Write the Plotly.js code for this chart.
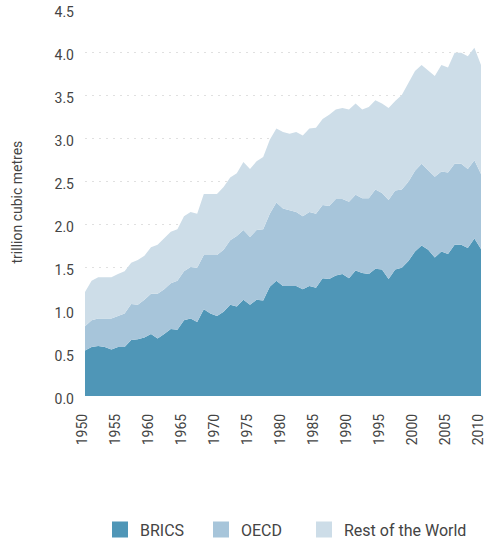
<!DOCTYPE html>
<html>
<head>
<meta charset="utf-8">
<script src="https://cdn.plot.ly/plotly-3.0.1.min.js"></script>
<style>html,body{margin:0;padding:0;background:#fff;}#chart{width:487px;height:542px;}</style>
</head>
<body>
<div id="chart"></div>
<script>
const years = [];
for (let y = 1950; y <= 2010; y++) years.push(y);

const seriesNames = ["BRICS", "OECD", "Rest of the World"];
const seriesColors = ["#4f96b7", "#a7c5da", "#cddde8"];

const brics = [0.53,0.57,0.58,0.57,0.54,0.57,0.57,0.65,0.66,0.68,
               0.72,0.67,0.72,0.78,0.77,0.88,0.90,0.86,1.01,0.96,
               0.93,0.98,1.06,1.04,1.12,1.06,1.12,1.11,1.27,1.34,
               1.28,1.28,1.28,1.24,1.28,1.26,1.37,1.36,1.40,1.42,
               1.37,1.46,1.43,1.42,1.48,1.47,1.36,1.47,1.49,1.57,
               1.68,1.75,1.70,1.61,1.68,1.65,1.76,1.76,1.72,1.83,
               1.71];
const oecd = [0.28,0.31,0.32,0.33,0.36,0.36,0.39,0.42,0.40,0.44,
              0.47,0.52,0.52,0.53,0.57,0.57,0.60,0.63,0.63,0.68,
              0.71,0.72,0.75,0.82,0.81,0.79,0.81,0.83,0.85,0.91,
              0.90,0.88,0.86,0.85,0.86,0.86,0.85,0.85,0.89,0.87,
              0.89,0.88,0.87,0.88,0.92,0.89,0.92,0.92,0.91,0.92,
              0.94,0.95,0.93,0.94,0.93,0.95,0.94,0.94,0.92,0.91,
              0.87];
const rest = [0.40,0.46,0.48,0.48,0.48,0.49,0.49,0.48,0.52,0.51,
              0.54,0.57,0.59,0.60,0.60,0.64,0.64,0.63,0.71,0.71,
              0.71,0.73,0.73,0.73,0.79,0.79,0.80,0.84,0.86,0.86,
              0.89,0.89,0.93,0.94,0.97,1.00,1.00,1.06,1.04,1.06,
              1.07,1.06,1.03,1.06,1.04,1.04,1.07,1.04,1.10,1.15,
              1.16,1.15,1.15,1.17,1.24,1.22,1.29,1.29,1.31,1.31,
              1.27];
const seriesValues = [brics, oecd, rest];

const xTicks = [1950,1955,1960,1965,1970,1975,1980,1985,1990,1995,2000,2005,2010];
const yTicks = [0,0.5,1,1.5,2,2.5,3,3.5,4,4.5];
const yTickText = yTicks.map(v => v.toFixed(1));
const yTitle = "trillion cubic metres";

const FONT = "Roboto, 'Noto Sans', sans-serif";
const legendIds = ["legend", "legend2", "legend3"];
const legendX = [100, 201, 304];

const traces = [];
seriesValues.forEach((vals, i) => {
  traces.push({
    x: years, y: vals, type: "scatter", mode: "lines",
    stackgroup: "one", name: seriesNames[i],
    line: {width: 0, color: seriesColors[i]},
    fillcolor: seriesColors[i], showlegend: false,
    hoverinfo: "x+y+name"
  });
});
seriesValues.forEach((vals, i) => {
  traces.push({
    x: [null], y: [null], type: "scatter", mode: "markers",
    name: seriesNames[i], legend: legendIds[i],
    marker: {symbol: "square", size: 16, color: seriesColors[i]},
    showlegend: true
  });
});

const layout = {
  width: 487, height: 542,
  margin: {l: 85, r: 6, t: 9, b: 146, autoexpand: false},
  paper_bgcolor: "#fff", plot_bgcolor: "#fff",
  font: {family: FONT, color: "#444", size: 14},
  showlegend: true,
  xaxis: {
    range: [1950, 2010], tickvals: xTicks, tickangle: -90,
    showgrid: false, zeroline: false, showline: false, automargin: false,
    ticks: "", ticklabelstandoff: 14, ticklabelshift: -3,
    tickfont: {family: FONT, size: 14, color: "#444"}, fixedrange: true
  },
  yaxis: {
    range: [0, 4.5], tickvals: yTicks, ticktext: yTickText, automargin: false,
    showgrid: true, gridcolor: "#e0e0e0", griddash: "2px,5px", gridwidth: 1,
    zeroline: false, showline: false, ticks: "", ticklabelstandoff: 10, ticklabelshift: 3,
    tickfont: {family: FONT, size: 14, color: "#444"},
    fixedrange: true
  },
  annotations: [{
    text: yTitle, xref: "paper", yref: "paper",
    x: (16 - 85) / 396, y: 0.5, xanchor: "center", yanchor: "middle",
    textangle: -90, showarrow: false,
    font: {family: FONT, size: 14, color: "#444"}
  }]
};
legendIds.forEach((id, i) => {
  layout[id] = {
    orientation: "h", xref: "container", x: legendX[i] / 487, xanchor: "left",
    y: -0.345, yanchor: "middle",
    font: {family: FONT, size: 16, color: "#444"},
    itemwidth: 30, bgcolor: "rgba(0,0,0,0)"
  };
});

Plotly.newPlot("chart", traces, layout, {displayModeBar: false, staticPlot: true});
</script>
</body>
</html>
